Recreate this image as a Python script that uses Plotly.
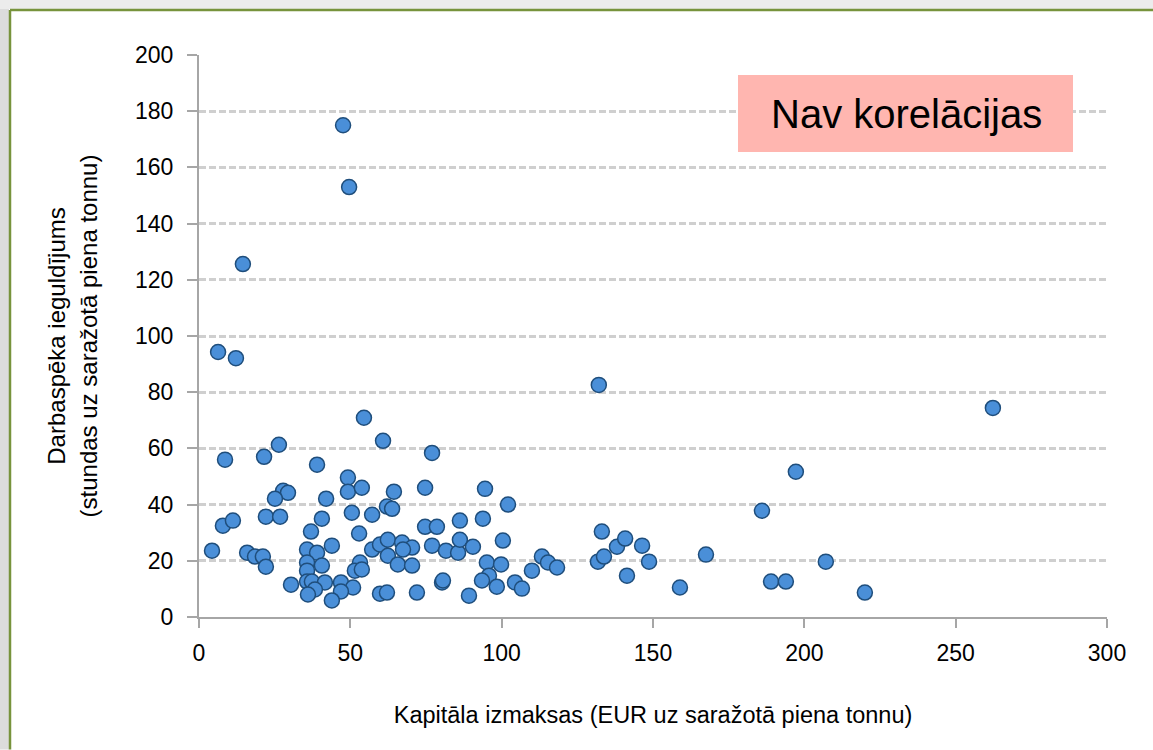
import plotly.graph_objects as go

# Capital costs (EUR per tonne of milk produced)
kapitala_izmaksas = [
    4.3, 6.3, 8.6, 12.2, 14.5, 21.5, 26.4, 39.0, 47.6, 49.6, 54.5, 60.8, 77.0,
    132.1, 262.3, 197.2, 186.0, 207.1, 220.0, 189.0, 193.9, 167.5, 158.9,
    7.9, 11.2, 22.1, 26.8, 27.8, 29.4, 25.1, 42.0, 40.6, 37.0, 43.9, 15.9,
    18.5, 21.1, 22.1, 35.7, 39.0, 35.7, 40.6, 35.7, 30.4, 35.7, 37.3, 41.6,
    38.3, 36.0, 46.9, 50.9, 46.9, 43.9, 59.8, 62.1, 72.0, 49.2, 49.2, 53.8,
    64.4, 50.5, 57.2, 62.1, 63.8, 52.9, 57.2, 59.8, 62.4, 62.4, 65.7, 70.4,
    67.1, 70.4, 67.4, 53.2, 51.5, 53.8, 74.7, 94.5, 102.1, 74.7, 78.6, 86.2,
    93.8, 77.0, 81.6, 85.6, 86.2, 90.5, 95.1, 99.8, 100.4, 95.8, 93.5, 98.4,
    80.3, 80.6, 89.2, 104.4, 106.7, 110.0, 113.3, 115.3, 118.3, 133.1, 131.8,
    133.8, 138.1, 140.8, 146.4, 148.7, 141.4,
]
# Labour input (hours per tonne of milk produced)
darbaspeka_ieguldijums = [
    23.6, 94.3, 56.0, 92.1, 125.6, 57.0, 61.3, 54.2, 175.0, 153.0, 70.9, 62.7, 58.4,
    82.6, 74.4, 51.7, 37.8, 19.7, 8.7, 12.6, 12.6, 22.2, 10.5,
    32.5, 34.3, 35.7, 35.7, 44.9, 44.2, 42.1, 42.1, 35.0, 30.4, 25.4, 22.9,
    21.5, 21.5, 17.9, 24.0, 22.9, 19.4, 18.3, 16.5, 11.5, 12.6, 12.6, 12.3,
    9.8, 8.0, 12.3, 10.5, 9.1, 5.9, 8.3, 8.7, 8.7, 49.6, 44.6, 46.0,
    44.6, 37.1, 36.4, 39.3, 38.5, 29.7, 24.0, 25.8, 27.5, 21.8, 18.7, 18.3,
    26.5, 24.7, 24.0, 19.4, 16.5, 16.9, 46.0, 45.6, 40.0, 32.1, 32.1, 34.3,
    35.0, 25.4, 23.6, 22.9, 27.5, 25.0, 19.4, 18.7, 27.2, 14.7, 13.0, 10.8,
    12.3, 13.0, 7.6, 12.3, 10.1, 16.5, 21.5, 19.4, 17.6, 30.4, 19.7,
    21.5, 25.0, 27.9, 25.4, 19.7, 14.7,
]

x_ticks = [0, 50, 100, 150, 200, 250, 300]
y_ticks = [0, 20, 40, 60, 80, 100, 120, 140, 160, 180, 200]

x_title = "Kapitāla izmaksas (EUR uz saražotā piena tonnu)"
y_title = "Darbaspēka ieguldījums<br>(stundas uz saražotā piena tonnu)"
note = "Nav korelācijas"

FONT = "Liberation Sans, Arial, sans-serif"

W, H = 1153, 750
L, R, T, B = 199, 1107, 55, 617.5
PW, PH = R - L, B - T


def px_x(px):
    return (px - L) / PW


def px_y(py):
    return (B - py) / PH


fig = go.Figure()
fig.add_trace(go.Scatter(
    x=kapitala_izmaksas, y=darbaspeka_ieguldijums, mode="markers",
    marker=dict(size=15, color="#4A8FD8", line=dict(color="#1F4E7C", width=1.5)),
    hoverinfo="x+y", showlegend=False,
))

shapes = [
    # slide background strips outside the frame
    dict(type="rect", xref="paper", yref="paper", x0=px_x(0), x1=px_x(9),
         y0=px_y(H), y1=px_y(0), fillcolor="#dcdcdc", line=dict(width=0), layer="above"),
    dict(type="rect", xref="paper", yref="paper", x0=px_x(0), x1=px_x(W),
         y0=px_y(9), y1=px_y(0), fillcolor="#ececec", line=dict(width=0), layer="above"),
    # green frame
    dict(type="line", xref="paper", yref="paper", x0=px_x(10), x1=px_x(10),
         y0=px_y(H), y1=px_y(10), line=dict(color="#77933C", width=2.5)),
    dict(type="line", xref="paper", yref="paper", x0=px_x(10), x1=px_x(W),
         y0=px_y(10), y1=px_y(10), line=dict(color="#77933C", width=2.5)),
    # note box
    dict(type="rect", xref="paper", yref="paper", x0=px_x(738), x1=px_x(1073),
         y0=px_y(152), y1=px_y(75), fillcolor="#FFB6B0", line=dict(width=0), layer="above"),
]

fig.update_layout(
    width=W, height=H,
    margin=dict(l=L, r=W - R, t=T, b=H - B, pad=0),
    paper_bgcolor="white", plot_bgcolor="white",
    font=dict(family=FONT, size=23, color="black"),
    shapes=shapes,
    annotations=[dict(
        text=note, xref="paper", yref="paper", x=px_x(906), y=px_y(114),
        xanchor="center", yanchor="middle", showarrow=False,
        font=dict(family=FONT, size=40, color="black"),
    )],
    xaxis=dict(
        range=[0, 300], tickvals=x_ticks, ticktext=[str(v) for v in x_ticks],
        showgrid=False, zeroline=False, showline=True, linecolor="#a6a6a6", linewidth=2,
        ticks="outside", ticklen=9, tickcolor="#a6a6a6", tickwidth=2,
        ticklabelstandoff=5,
        title=dict(text=x_title, font=dict(family=FONT, size=23.5), standoff=42),
    ),
    yaxis=dict(
        range=[0, 200], tickvals=y_ticks, ticktext=[str(v) for v in y_ticks],
        showgrid=True, gridcolor="#cfcfcf", gridwidth=2.5, griddash="7px,3px",
        zeroline=False, showline=True, linecolor="#a6a6a6", linewidth=2,
        ticks="outside", ticklen=10, tickcolor="#a6a6a6", tickwidth=2,
        ticklabelstandoff=9,
        title=dict(text=y_title, font=dict(family=FONT, size=24), standoff=31),
    ),
)

fig.write_html("out.html", config={"displayModeBar": False},
               post_script="document.body.style.margin='0';")
